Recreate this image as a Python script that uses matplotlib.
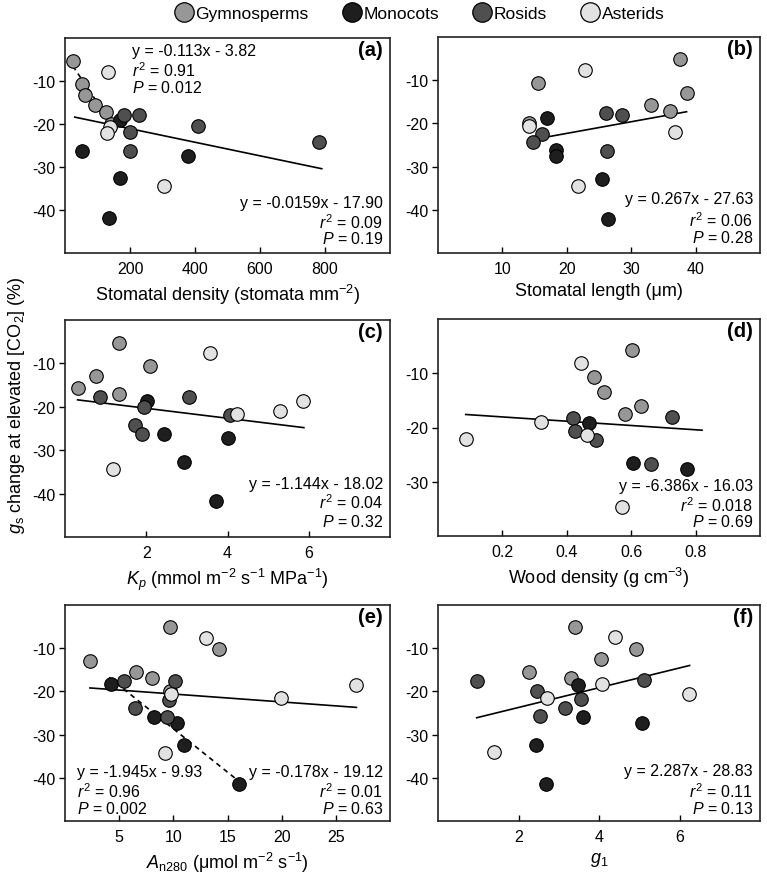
import matplotlib
matplotlib.use("Agg")
import matplotlib.pyplot as plt
from matplotlib.lines import Line2D

plt.rcParams.update({
    "font.family": ["Liberation Sans", "DejaVu Sans"],
    "mathtext.fontset": "custom",
    "mathtext.rm": "Liberation Sans",
    "mathtext.it": "Liberation Sans:italic",
    "mathtext.bf": "Liberation Sans:bold",
    "axes.unicode_minus": False,
})

groups = ["Gymnosperms", "Monocots", "Rosids", "Asterids"]
colors = {"Gymnosperms": "#979797", "Monocots": "#1e1e1e", "Rosids": "#4f4f4f", "Asterids": "#e2e2e2"}

# ---------------- data ----------------
# (a) stomatal density
a_gym_x = [24, 53, 63, 91, 126, 140]
a_gym_y = [-5.4, -10.8, -13.2, -15.6, -17.2, -20.0]
a_mono_x = [169, 53, 378, 168, 135]
a_mono_y = [-19.1, -26.3, -27.5, -32.5, -41.8]
a_ros_x = [180, 227, 199, 199, 410, 780]
a_ros_y = [-18.0, -17.9, -21.9, -26.3, -20.4, -24.3]
a_ast_x = [131, 138, 130, 304]
a_ast_y = [-7.8, -20.8, -22.0, -34.4]
a_fit_x = [30, 790]
a_fit_y = [-18.4, -30.4]
a_dash_x = [24, 140]
a_dash_y = [-6.5, -19.6]

# (b) stomatal length
b_gym_x = [15.6, 37.6, 38.6, 33.0, 36.1, 14.2]
b_gym_y = [-10.6, -5.1, -12.9, -15.7, -17.2, -19.8]
b_mono_x = [17.0, 18.3, 18.3, 25.5, 26.4]
b_mono_y = [-18.8, -26.2, -27.5, -32.8, -42.2]
b_ros_x = [16.2, 14.8, 26.1, 28.5, 26.2]
b_ros_y = [-22.4, -24.2, -17.7, -18.0, -26.3]
b_ast_x = [22.9, 14.2, 36.8, 21.7]
b_ast_y = [-7.6, -20.7, -21.9, -34.6]
b_fit_x = [14.1, 38.6]
b_fit_y = [-23.9, -17.3]

# (c) Kp
c_gym_x = [1.34, 2.10, 0.76, 0.33, 1.33]
c_gym_y = [-5.25, -10.5, -12.9, -15.7, -17.1]
c_mono_x = [2.02, 2.44, 4.0, 2.93, 3.71]
c_mono_y = [-18.6, -26.2, -27.3, -32.7, -41.7]
c_ros_x = [0.87, 1.95, 3.06, 1.72, 1.89, 4.05]
c_ros_y = [-17.8, -20.0, -17.7, -24.2, -26.2, -22.0]
c_ast_x = [3.57, 4.24, 5.28, 5.86, 1.18]
c_ast_y = [-7.7, -21.7, -20.9, -18.6, -34.3]
c_fit_x = [0.31, 5.88]
c_fit_y = [-18.4, -24.8]

# (d) wood density
d_gym_x = [0.603, 0.486, 0.515, 0.630, 0.582]
d_gym_y = [-5.7, -10.6, -13.4, -16.1, -17.5]
d_mono_x = [0.469, 0.605, 0.774]
d_mono_y = [-19.2, -26.6, -27.7]
d_ros_x = [0.726, 0.42, 0.424, 0.491, 0.663]
d_ros_y = [-18.1, -18.3, -20.6, -22.3, -26.7]
d_ast_x = [0.445, 0.087, 0.32, 0.463, 0.570]
d_ast_y = [-8.1, -22.2, -18.9, -21.3, -34.7]
d_fit_x = [0.086, 0.82]
d_fit_y = [-17.6, -20.5]

# (e) An280
e_gym_x = [2.30, 9.68, 14.24, 6.55, 8.0, 9.7]
e_gym_y = [-13.0, -5.1, -10.3, -15.5, -16.9, -19.8]
e_mono_x = [4.22, 8.22, 10.36, 11.0, 16.07]
e_mono_y = [-18.4, -26.0, -27.3, -32.4, -41.5]
e_ros_x = [5.40, 10.18, 9.56, 6.49, 9.37]
e_ros_y = [-17.7, -17.6, -21.9, -23.8, -26.0]
e_ast_x = [13.06, 9.81, 9.22, 19.95, 26.9]
e_ast_y = [-7.7, -20.5, -34.2, -21.6, -18.5]
e_fit_x = [2.3, 26.9]
e_fit_y = [-19.2, -23.7]
e_dash_x = [4.07, 16.0]
e_dash_y = [-16.75, -40.7]

# (f) g1
f_gym_x = [2.26, 3.41, 4.92, 4.05, 3.30]
f_gym_y = [-15.5, -5.15, -10.2, -12.6, -17.0]
f_mono_x = [3.49, 3.6, 5.07, 2.43, 2.68]
f_mono_y = [-18.5, -25.9, -27.2, -32.5, -41.5]
f_ros_x = [0.98, 5.11, 2.47, 3.55, 3.16, 2.54]
f_ros_y = [-17.6, -17.4, -20.0, -21.8, -23.9, -25.8]
f_ast_x = [4.39, 4.07, 6.24, 2.70, 1.39]
f_ast_y = [-7.4, -18.2, -20.5, -21.5, -34.0]
f_fit_x = [0.96, 6.25]
f_fit_y = [-26.1, -14.0]

panels = [
    dict(lab="(a)", pts=[(a_gym_x, a_gym_y), (a_mono_x, a_mono_y), (a_ros_x, a_ros_y), (a_ast_x, a_ast_y)],
         fit=(a_fit_x, a_fit_y), dash=(a_dash_x, a_dash_y), xlim=(0, 1000), ylim=(-50, 0),
         xt=[200, 400, 600, 800], yt=[-10, -20, -30, -40],
         xlabel="Stomatal density (stomata mm$^{-2}$)",
         rtext=["y = -0.0159x - 17.90", "$r^2$ = 0.09", "$P$ = 0.19"], ry=[0.236, 0.146, 0.07],
         ltext=["y = -0.113x - 3.82", "$r^2$ = 0.91", "$P$ = 0.012"], lx=0.205, ly=[0.94, 0.855, 0.77]),
    dict(lab="(b)", pts=[(b_gym_x, b_gym_y), (b_mono_x, b_mono_y), (b_ros_x, b_ros_y), (b_ast_x, b_ast_y)],
         fit=(b_fit_x, b_fit_y), dash=None, xlim=(0, 50), ylim=(-50, 0),
         xt=[10, 20, 30, 40], yt=[-10, -20, -30, -40],
         xlabel="Stomatal length (μm)",
         rtext=["y = 0.267x - 27.63", "$r^2$ = 0.06", "$P$ = 0.28"], ry=[0.25, 0.153, 0.073]),
    dict(lab="(c)", pts=[(c_gym_x, c_gym_y), (c_mono_x, c_mono_y), (c_ros_x, c_ros_y), (c_ast_x, c_ast_y)],
         fit=(c_fit_x, c_fit_y), dash=None, xlim=(0, 8), ylim=(-50, 0),
         xt=[2, 4, 6], yt=[-10, -20, -30, -40],
         xlabel="$K_p$ (mmol m$^{-2}$ s$^{-1}$ MPa$^{-1}$)",
         rtext=["y = -1.144x - 18.02", "$r^2$ = 0.04", "$P$ = 0.32"], ry=[0.247, 0.163, 0.072]),
    dict(lab="(d)", pts=[(d_gym_x, d_gym_y), (d_mono_x, d_mono_y), (d_ros_x, d_ros_y), (d_ast_x, d_ast_y)],
         fit=(d_fit_x, d_fit_y), dash=None, xlim=(0, 1.0), ylim=(-40, 0),
         xt=[0.2, 0.4, 0.6, 0.8], yt=[-10, -20, -30],
         xlabel="Wood density (g cm$^{-3}$)",
         rtext=["y = -6.386x - 16.03", "$r^2$ = 0.018", "$P$ = 0.69"], ry=[0.232, 0.146, 0.07]),
    dict(lab="(e)", pts=[(e_gym_x, e_gym_y), (e_mono_x, e_mono_y), (e_ros_x, e_ros_y), (e_ast_x, e_ast_y)],
         fit=(e_fit_x, e_fit_y), dash=(e_dash_x, e_dash_y), xlim=(0, 30), ylim=(-50, 0),
         xt=[5, 10, 15, 20, 25], yt=[-10, -20, -30, -40],
         xlabel="$A_{\\rm n280}$ (μmol m$^{-2}$ s$^{-1}$)",
         rtext=["y = -0.178x - 19.12", "$r^2$ = 0.01", "$P$ = 0.63"], ry=[0.228, 0.141, 0.06],
         ltext=["y = -1.945x - 9.93", "$r^2$ = 0.96", "$P$ = 0.002"], lx=0.036, ly=[0.228, 0.141, 0.06]),
    dict(lab="(f)", pts=[(f_gym_x, f_gym_y), (f_mono_x, f_mono_y), (f_ros_x, f_ros_y), (f_ast_x, f_ast_y)],
         fit=(f_fit_x, f_fit_y), dash=None, xlim=(0, 8), ylim=(-50, 0),
         xt=[2, 4, 6], yt=[-10, -20, -30, -40],
         xlabel="$g_1$",
         rtext=["y = 2.287x - 28.83", "$r^2$ = 0.11", "$P$ = 0.13"], ry=[0.232, 0.142, 0.062]),
]

W, H = 767, 879
fig = plt.figure(figsize=(W / 100, H / 100), dpi=100)

boxes = [
    (65, 39, 390, 254), (438, 38, 760, 254),
    (65, 321, 390, 538), (438, 320, 760, 537),
    (65, 606, 390, 822), (438, 606, 760, 822),
]

for p, (l, t, r, b) in zip(panels, boxes):
    ax = fig.add_axes([l / W, 1 - b / H, (r - l) / W, (b - t) / H])
    ax.plot(p["fit"][0], p["fit"][1], color="black", lw=1.2, zorder=2)
    if p["dash"] is not None:
        ax.plot(p["dash"][0], p["dash"][1], color="black", lw=1.2, ls=(0, (3, 2.5)), zorder=2)
    for g, (xs, ys) in zip(groups, p["pts"]):
        ax.scatter(xs, ys, s=95, color=colors[g], edgecolors="black", linewidths=0.8, zorder=3)
    ax.set_xlim(*p["xlim"])
    ax.set_ylim(*p["ylim"])
    ax.set_xticks(p["xt"])
    ax.set_yticks(p["yt"])
    if p["lab"] == "(d)":
        ax.set_xticklabels(["0.2", "0.4", "0.6", "0.8"])
    ax.tick_params(axis="x", direction="in", length=4, width=1, labelsize=11.5, pad=6)
    ax.tick_params(axis="y", direction="out", length=4, width=1, labelsize=11.5, pad=3)
    for sp in ax.spines.values():
        sp.set_linewidth(1.2)
        sp.set_color("#222222")
    ax.set_xlabel(p["xlabel"], fontsize=13, labelpad=4)
    ax.text(0.978, 0.945, p["lab"], transform=ax.transAxes, ha="right", va="center",
            fontsize=14.5, fontweight="bold")
    for s, yy in zip(p["rtext"], p["ry"]):
        ax.text(0.978, yy, s, transform=ax.transAxes, ha="right", va="center", fontsize=11.5)
    if "ltext" in p:
        for s, yy in zip(p["ltext"], p["ly"]):
            ax.text(p["lx"], yy, s, transform=ax.transAxes, ha="left", va="center", fontsize=11.5)

fig.text(0.022, 1 - 405 / H, "$g_{\\rm s}$ change at elevated [CO$_2$] (%)", rotation=90,
         ha="center", va="center", fontsize=13)

handles = [Line2D([], [], ls="none", marker="o", markersize=14, markerfacecolor=colors[g],
                  markeredgecolor="black", markeredgewidth=0.9) for g in groups]
fig.legend(handles, groups, loc="center", bbox_to_anchor=(420 / W, 1 - 14 / H), ncol=4,
           frameon=False, fontsize=12.5, handletextpad=0.15, columnspacing=2.0,
           handlelength=1.0, borderpad=0)

fig.savefig("out.png", dpi=100)
